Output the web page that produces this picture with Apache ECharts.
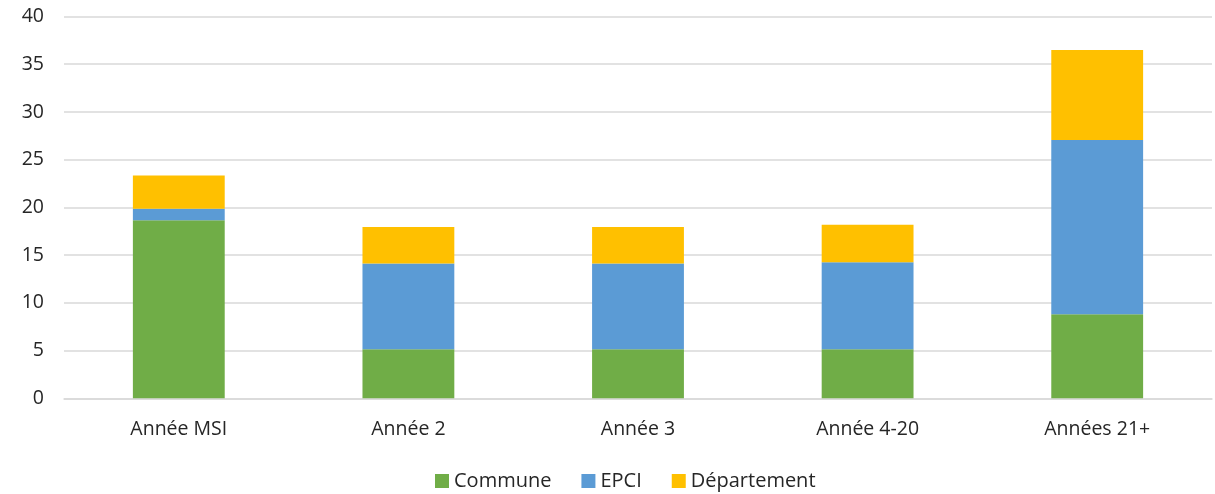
<!DOCTYPE html>
<html><head><meta charset="utf-8">
<script src="https://cdn.jsdelivr.net/npm/echarts@6/dist/echarts.min.js"></script>
<style>html,body{margin:0;padding:0;background:#fff}#c{width:1215px;height:494px}</style>
</head><body><div id="c"></div>
<script>
const categories = ['Année MSI', 'Année 2', 'Année 3', 'Année 4-20', 'Années 21+'];
const commune = [18.65, 5.13, 5.13, 5.13, 8.8];
const epci = [1.2, 8.98, 8.98, 9.12, 18.27];
const departement = [3.5, 3.84, 3.84, 3.92, 9.41];
const seriesNames = ['Commune', 'EPCI', 'Département'];
const font = 'Open Sans, Liberation Sans, sans-serif';
const chart = echarts.init(document.getElementById('c'));
const mk = (name, data, color) => ({name, type:'bar', stack:'t', data, barWidth:'40%', itemStyle:{color}});
chart.setOption({
  animation:false,
  grid:{left:64, right:3, top:16.5, bottom:95.7, containLabel:false},
  legend:{bottom:-2, left:430, itemWidth:14, itemHeight:14, itemGap:30, icon:'rect',
    textStyle:{fontSize:20, color:'#262626', fontFamily:font}, data:seriesNames},
  xAxis:{type:'category', data:categories, axisTick:{show:false},
    axisLine:{lineStyle:{color:'#d9d9d9', width:1.5}},
    axisLabel:{fontSize:19.5, color:'#262626', fontFamily:font, margin:21}},
  yAxis:{type:'value', min:0, max:40, interval:5,
    axisLabel:{fontSize:19.5, color:'#262626', fontFamily:font, margin:20}},
  series:[mk(seriesNames[0], commune, '#70ad47'), mk(seriesNames[1], epci, '#5b9bd5'), mk(seriesNames[2], departement, '#ffc000')]
});
chart.setOption({yAxis:{splitLine:{lineStyle:{color:'#d9d9d9', width:1.5}}}});
</script></body></html>
